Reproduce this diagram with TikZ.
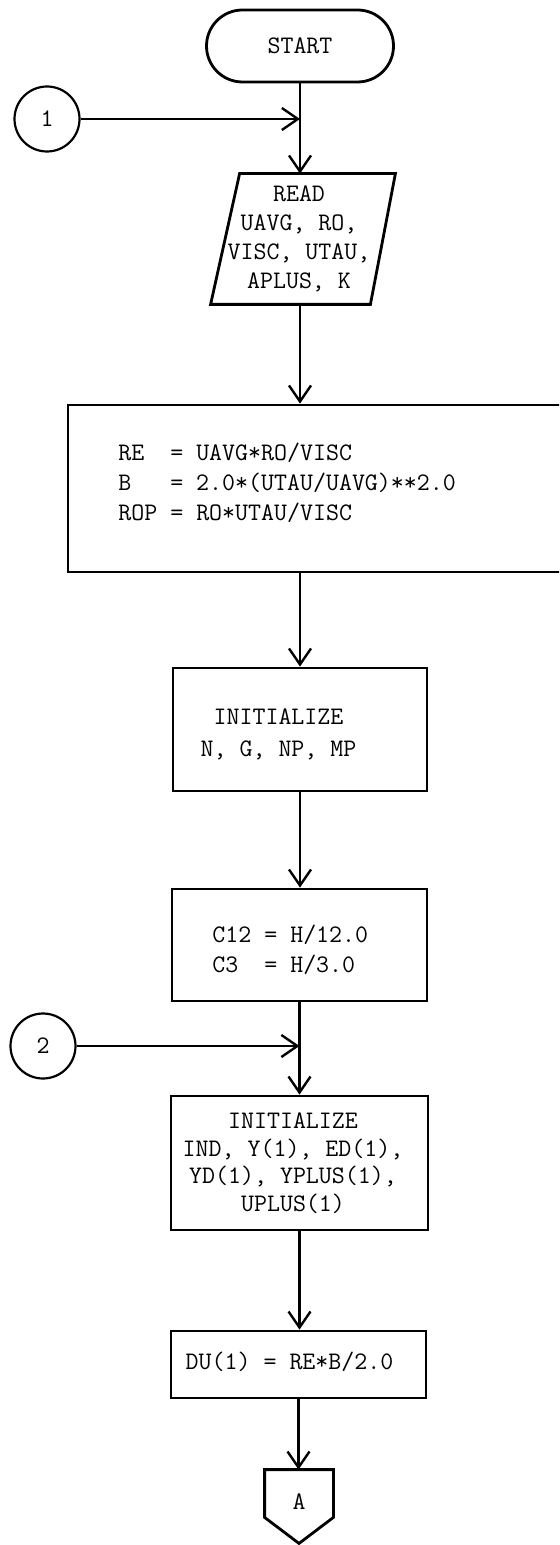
\documentclass[tikz,border=0pt]{standalone}
\usepackage{tikz}
\usetikzlibrary{arrows.meta,shapes.misc}
\frenchspacing
\tikzset{
  box/.style={draw, line width=1.4pt, inner sep=0pt},
  code/.style={font=\fontsize{12.6}{15}\selectfont\ttfamily, inner sep=0pt},
  flow/.style={line width=1.2pt, -{Straight Barb[length=8pt,width=11pt]}},
  conn/.style={draw, circle, line width=1.1pt, minimum size=32.5pt, inner sep=0pt,
    font=\fontsize{12.6}{15}\selectfont\ttfamily},
}
\begin{document}
\begin{tikzpicture}[x=0.5pt,y=-0.5pt]
  \useasboundingbox (0,0) rectangle (559,1545);
  \clip (0,0) rectangle (559,1545);

  % Terminal and read
  \node[box, rounded rectangle, minimum width=93.5pt, minimum height=36pt, code] (start) at (300,46) {START};
  \node[conn] (conn1) at (47,119) {1};
  \node[inner sep=0pt, minimum width=92pt, minimum height=65pt] (read) at (303,239) {};
  \draw[box] ([xshift=14.5pt]read.north west) -- (read.north east)
    -- ([xshift=-12.5pt]read.south east) -- (read.south west) -- cycle;
  \node[code, align=center, font=\fontsize{12.6}{14.5}\selectfont\ttfamily] (readtxt) at (299,239)
    {READ\\UAVG, RO,\\VISC, UTAU,\\APLUS, K};

  % Parameters
  \node[box, minimum width=251pt, minimum height=83.5pt] (calc) at (319,488.5) {};
  \node[code, align=left, anchor=west] (calctxt) at (118,483)
    {RE~~= UAVG*RO/VISC\\B~~~= 2.0*(UTAU/UAVG)**2.0\\ROP = RO*UTAU/VISC};

  \node[box, minimum width=127pt, minimum height=61.5pt] (init1) at (300,729.5) {};
  \node[code, align=center, font=\fontsize{12.6}{16}\selectfont\ttfamily] (init1txt) at (278.5,734)
    {INITIALIZE\\N, G, NP, MP};

  \node[box, minimum width=127.5pt, minimum height=56pt] (consts) at (299.5,945) {};
  \node[code, align=left, anchor=west] (conststxt) at (212,950) {C12 = H/12.0\\C3~~= H/3.0};

  % Starting values
  \node[conn] (conn2) at (43,1046) {2};
  \node[box, minimum width=128.5pt, minimum height=67pt] (init2) at (299.5,1163) {};
  \node[code, align=center, font=\fontsize{12.6}{13.75}\selectfont\ttfamily] (init2txt) at (293,1163)
    {INITIALIZE\\IND, Y(1), ED(1),\\YD(1), YPLUS(1),\\UPLUS(1)};

  \node[box, minimum width=127.5pt, minimum height=33.5pt] (du) at (298.5,1364.5) {};
  \node[code] (dutxt) at (289.5,1362) {DU(1) = RE*B/2.0};

  % Off-page connector
  \node[inner sep=0pt, minimum width=34pt, minimum height=23.5pt] (pageA) at (299,1493.5) {};
  \draw[box] (pageA.north west) -- (pageA.north east) -- (pageA.south east)
    -- ([yshift=-13pt]pageA.south) -- (pageA.south west) -- cycle;
  \node[code] (pageAtxt) at (299,1502) {A};

  % Flow lines
  \coordinate (j1) at (start.south |- conn1.east);
  \draw[flow] (start.south) -- (start.south |- read.north);
  \draw[flow] (conn1.east) -- (j1);
  \draw[flow] (read.south -| start.south) -- (start.south |- calc.north);
  \draw[flow] (calc.south -| start.south) -- (start.south |- init1.north);
  \draw[flow] (init1.south) -- (init1.south |- consts.north);
  \draw[flow] (consts.south) -- (consts.south |- init2.north);
  \draw[flow] (conn2.east) -- (conn2.east -| consts.south);
  \draw[flow] (init2.south) -- (init2.south |- du.north);
  \draw[flow] (du.south) -- (du.south |- pageA.north);
\end{tikzpicture}
\end{document}
